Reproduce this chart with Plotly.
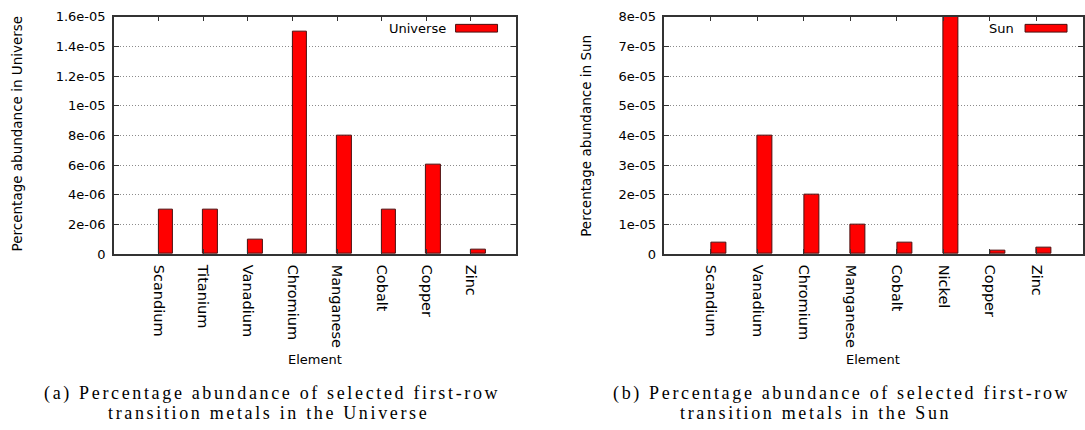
import plotly.graph_objects as go

# Abundance data (percentage) for selected first-row transition metals
universe_elements = ["Scandium", "Titanium", "Vanadium", "Chromium",
                     "Manganese", "Cobalt", "Copper", "Zinc"]
universe_values = [3e-6, 3e-6, 1e-6, 1.5e-5, 8e-6, 3e-6, 6e-6, 3e-7]

sun_elements = ["Scandium", "Vanadium", "Chromium", "Manganese",
                "Cobalt", "Nickel", "Copper", "Zinc"]
sun_values = [4e-6, 4e-5, 2e-5, 1e-5, 4e-6, 8e-5, 1e-6, 2e-6]

universe_yticks = [0, 2e-6, 4e-6, 6e-6, 8e-6, 1e-5, 1.2e-5, 1.4e-5, 1.6e-5]
universe_ytext = ["0", "2e-06", "4e-06", "6e-06", "8e-06",
                  "1e-05", "1.2e-05", "1.4e-05", "1.6e-05"]
sun_yticks = [0, 1e-5, 2e-5, 3e-5, 4e-5, 5e-5, 6e-5, 7e-5, 8e-5]
sun_ytext = ["0", "1e-05", "2e-05", "3e-05", "4e-05",
             "5e-05", "6e-05", "7e-05", "8e-05"]

W, H = 1085, 430
SANS = "DejaVu Sans"
SERIF = "Liberation Serif"
FRAME = "#333333"
BAR_FILL = "#ff0000"
BAR_EDGE = "#4a1010"


def px(x):
    return x / W


def py(y):
    return 1 - y / H


fig = go.Figure()

fig.add_trace(go.Bar(
    x=list(range(len(universe_elements))), y=universe_values,
    width=0.33, offset=0,
    marker=dict(color=BAR_FILL, line=dict(color=BAR_EDGE, width=1)),
    name="Universe", showlegend=False, xaxis="x", yaxis="y",
))
fig.add_trace(go.Bar(
    x=list(range(len(sun_elements))), y=sun_values,
    width=0.33, offset=0,
    marker=dict(color=BAR_FILL, line=dict(color=BAR_EDGE, width=1)),
    name="Sun", showlegend=False, xaxis="x2", yaxis="y2",
))

ydom = [py(256), py(10)]
left_dom = [px(114), px(516)]
right_dom = [px(665), px(1084)]

xcommon = dict(
    range=[-1, 8], showline=True, linecolor=FRAME, linewidth=1.5,
    mirror="allticks", ticks="inside", ticklen=5, tickcolor=FRAME,
    tickangle=90, showgrid=False, zeroline=False, ticklabelstandoff=6,
    tickfont=dict(family=SANS, size=14.5, color="#000"),
)
ycommon = dict(
    showline=True, linecolor=FRAME, linewidth=1.5,
    mirror="allticks", ticks="inside", ticklen=5, tickcolor=FRAME,
    showgrid=True, gridcolor="#8c8c8c", griddash="1px,2px", gridwidth=1,
    zeroline=False, ticklabelstandoff=4,
    tickfont=dict(family=SANS, size=13, color="#000"),
)

fig.update_layout(
    width=W, height=H, margin=dict(l=0, r=0, t=0, b=0),
    paper_bgcolor="white", plot_bgcolor="white", bargap=0,
    xaxis=dict(xcommon, domain=left_dom, anchor="y",
               tickvals=list(range(len(universe_elements))),
               ticktext=universe_elements),
    yaxis=dict(ycommon, domain=ydom, anchor="x", range=[0, 1.6e-5],
               tickvals=universe_yticks, ticktext=universe_ytext),
    xaxis2=dict(xcommon, domain=right_dom, anchor="y2",
                tickvals=list(range(len(sun_elements))),
                ticktext=sun_elements),
    yaxis2=dict(ycommon, domain=ydom, anchor="x2", range=[0, 8e-5],
                tickvals=sun_yticks, ticktext=sun_ytext),
)

# Key boxes drawn in the top-right corner of each panel
for swatch_x0, swatch_x1, label, text_x in [(456, 498, "Universe", 448),
                                            (1026, 1068, "Sun", 1017)]:
    fig.add_shape(type="rect", xref="paper", yref="paper",
                  x0=px(swatch_x0), x1=px(swatch_x1), y0=py(26), y1=py(18),
                  fillcolor=BAR_FILL, line=dict(color=BAR_EDGE, width=1))
    fig.add_annotation(text=label, xref="paper", yref="paper",
                       x=px(text_x), y=py(22), xanchor="right", yanchor="middle",
                       showarrow=False, font=dict(family=SANS, size=13, color="#000"))

# Axis titles
for x, y, txt in [(17, 131, "Percentage abundance in Universe"),
                  (587, 133, "Percentage abundance in Sun")]:
    fig.add_annotation(text=txt, xref="paper", yref="paper", x=px(x), y=py(y),
                       xanchor="center", yanchor="middle", textangle=-90,
                       showarrow=False, font=dict(family=SANS, size=13.5, color="#000"))
for x in (315, 874):
    fig.add_annotation(text="Element", xref="paper", yref="paper", x=px(x), y=py(365),
                       xanchor="center", yanchor="middle",
                       showarrow=False, font=dict(family=SANS, size=13, color="#000"))

# Sub-figure captions (letter-spaced serif)
captions = [
    (272, 400, "(a) Percentage abundance of selected first-row"),
    (269, 421, "transition metals in the Universe"),
    (842, 400, "(b) Percentage abundance of selected first-row"),
    (816, 421, "transition metals in the Sun"),
]
for x, y, txt in captions:
    fig.add_annotation(text=f'<span style="letter-spacing:2.65px">{txt}</span>',
                       xref="paper", yref="paper", x=px(x), y=py(y),
                       xanchor="center", yanchor="middle", showarrow=False,
                       font=dict(family=SERIF, size=18, color="#000"))

fig.write_html("out.html")
